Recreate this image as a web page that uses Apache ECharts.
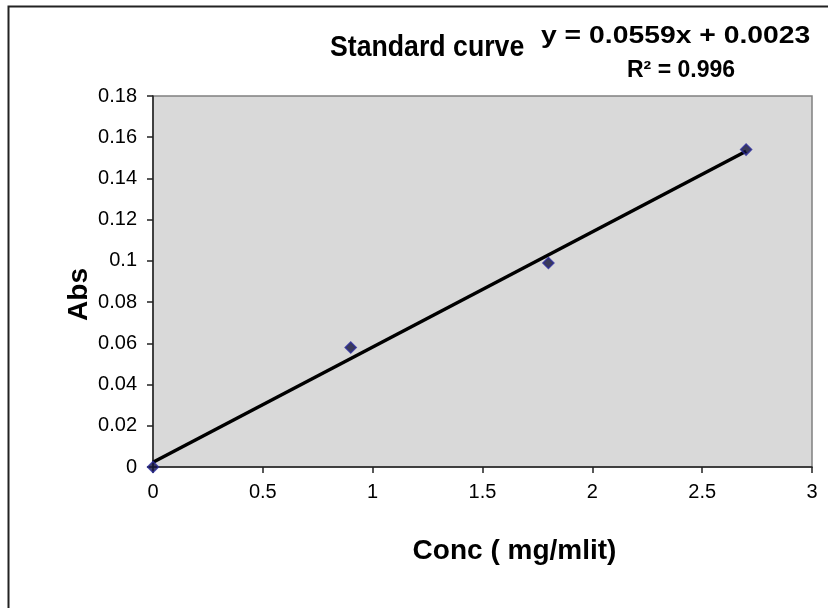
<!DOCTYPE html>
<html>
<head>
<meta charset="utf-8">
<script src="https://cdn.jsdelivr.net/npm/echarts@6/dist/echarts.min.js"></script>
<style>
  html, body { margin: 0; padding: 0; background: #fff; }
  #chart { width: 828px; height: 608px; }
</style>
</head>
<body>
<div id="chart"></div>
<script>
// data
var concX = [0, 0.9, 1.8, 2.7];
var absY = [0, 0.058, 0.099, 0.154];
// trendline end points (y = 0.0559x + 0.0023)
var trendX = [0, 2.7];
var trendY = [0.0023, 0.1532];
var eqLines = ['y = 0.0559x + 0.0023', 'R\u00b2 = 0.996'];

var points = concX.map(function (x, i) { return [x, absY[i]]; });
var trend = trendX.map(function (x, i) { return [x, trendY[i]]; });

var FONT = '"Liberation Sans", Arial, sans-serif';

var myChart = echarts.init(document.getElementById('chart'));
var option = {
  backgroundColor: '#fff',
  animation: false,
  graphic: [
    { // chart area border, only top & left are inside the picture
      type: 'rect',
      shape: { x: 8.5, y: 6.5, width: 900, height: 700 },
      style: { fill: null, stroke: '#222', lineWidth: 2 },
      silent: true
    },
    { // title, narrow bold face in the original
      type: 'text',
      x: 330,
      y: 33,
      scaleX: 0.92,
      style: {
        text: 'Standard curve',
        font: 'bold 29px ' + FONT,
        fill: '#000'
      }
    },
    {
      type: 'text',
      x: 541,
      y: 24,
      scaleX: 1.18,
      style: {
        text: eqLines[0],
        font: 'bold 24px ' + FONT,
        fill: '#000'
      }
    },
    {
      type: 'text',
      x: 627,
      y: 59,
      style: {
        text: eqLines[1],
        font: 'bold 23px ' + FONT,
        fill: '#000'
      }
    }
  ],
  grid: {
    left: 153,
    right: 16,
    top: 96,
    bottom: 141,
    show: true,
    backgroundColor: '#d9d9d9',
    borderColor: '#808080',
    borderWidth: 1.5
  },
  xAxis: {
    type: 'value',
    min: 0,
    max: 3,
    interval: 0.5,
    name: 'Conc ( mg/mlit)',
    nameLocation: 'middle',
    nameGap: 70,
    nameTextStyle: {
      fontFamily: FONT,
      fontWeight: 'bold',
      fontSize: 28,
      color: '#000',
      padding: [0, 0, 0, 64]
    },
    axisLine: { show: true, lineStyle: { color: '#222', width: 1.5 } },
    axisTick: { show: true, length: 6, lineStyle: { color: '#222', width: 1.5 } },
    axisLabel: {
      margin: 15,
      fontFamily: FONT,
      fontSize: 20,
      color: '#000'
    },
    splitLine: { show: false }
  },
  yAxis: {
    type: 'value',
    min: 0,
    max: 0.18,
    interval: 0.02,
    name: 'Abs',
    nameLocation: 'middle',
    nameMoveOverlap: false,
    nameGap: 60,
    nameTextStyle: {
      fontFamily: FONT,
      fontWeight: 'bold',
      fontSize: 28,
      color: '#000',
      padding: [0, 26, 0, 0]
    },
    axisLine: { show: true, lineStyle: { color: '#222', width: 1.5 } },
    axisTick: { show: true, length: 6, lineStyle: { color: '#222', width: 1.5 } },
    axisLabel: {
      margin: 16,
      fontFamily: FONT,
      fontSize: 20,
      color: '#000'
    },
    splitLine: { show: false }
  },
  series: [
    {
      type: 'line',
      data: trend,
      symbol: 'none',
      lineStyle: { color: '#000', width: 3.5 },
      z: 2
    },
    {
      type: 'scatter',
      data: points,
      symbol: 'diamond',
      symbolSize: 11,
      itemStyle: { color: '#10103a', borderColor: '#2a2a9a', borderWidth: 1.5 },
      z: 3
    }
  ]
};
myChart.setOption(option);
</script>
</body>
</html>
